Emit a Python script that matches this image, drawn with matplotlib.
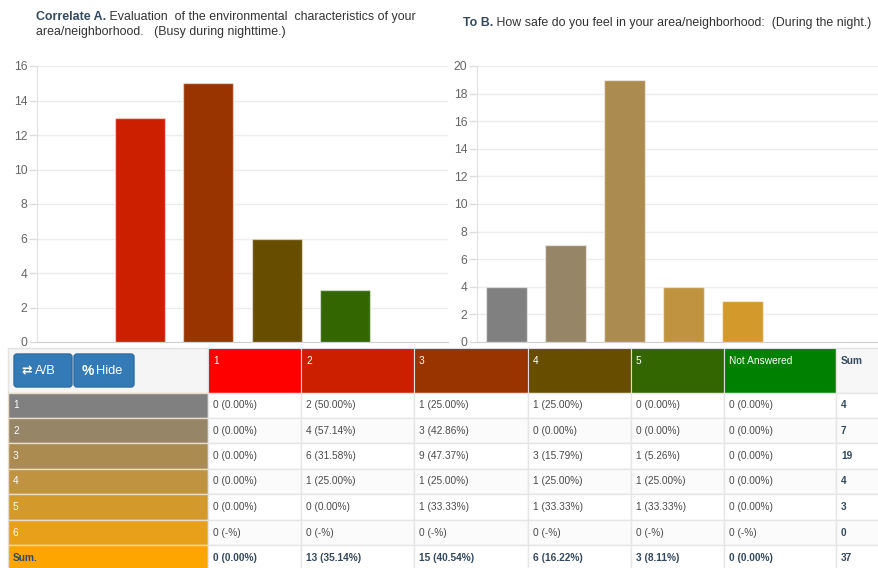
import matplotlib
matplotlib.use("Agg")
import matplotlib.pyplot as plt
from matplotlib.patches import Rectangle, FancyBboxPatch

plt.rcParams["font.family"] = ["Liberation Sans", "DejaVu Sans"]

W, H = 879, 568

# question A (columns) and B (rows)
A_LABELS = ["1", "2", "3", "4", "5", "Not Answered"]
A_COUNTS = [0, 13, 15, 6, 3, 0]
A_COLORS = ["#ff0000", "#cc1f00", "#993300", "#664d00", "#336600", "#008000"]

B_LABELS = ["1", "2", "3", "4", "5", "6"]
B_COUNTS = [4, 7, 19, 4, 3, 0]
B_COLORS = ["#808080", "#968566", "#ab8b50", "#bf9340", "#d3992b", "#e8a01a"]
SUM_COLOR = "#ffa500"

# crosstab: rows = B answers, columns = A answers
CROSS = [
    [0, 2, 1, 1, 0, 0],
    [0, 4, 3, 0, 0, 0],
    [0, 6, 9, 3, 1, 0],
    [0, 1, 1, 1, 1, 0],
    [0, 0, 1, 1, 1, 0],
    [0, 0, 0, 0, 0, 0],
]
TOTAL = 37

TITLE_A_BOLD = "Correlate A."
TITLE_A_REST = [" Evaluation  of the environmental  characteristics of your",
                "area/neighborhood.   (Busy during nighttime.)"]
TITLE_B_BOLD = "To B."
TITLE_B_REST = " How safe do you feel in your area/neighborhood:  (During the night.)"

NAVY = "#34495e"

fig = plt.figure(figsize=(W / 100, H / 100), dpi=100)
page = fig.add_axes([0, 0, 1, 1], facecolor="none")
page.set_xlim(0, W)
page.set_ylim(H, 0)
page.axis("off")


def px_axes(x0, y0, x1, y1):
    return fig.add_axes([x0 / W, 1 - y1 / H, (x1 - x0) / W, (y1 - y0) / H])


def bar_chart(ax, counts, colors, ymax, xright, width):
    x = list(range(len(counts)))
    ax.bar(x, counts, width=width, color=colors,
           edgecolor=(1, 1, 1, 0.5), linewidth=1, zorder=3)
    ax.set_ylim(0, ymax)
    ax.set_yticks(range(0, ymax + 1, 2))
    ax.set_xlim(-0.5, xright)
    ax.set_xticks([])
    ax.grid(axis="y", color="#ececec", lw=1, zorder=0)
    ax.set_axisbelow(True)
    for s in ["top", "right"]:
        ax.spines[s].set_visible(False)
    ax.spines["left"].set_color("#e2e2e2")
    ax.spines["bottom"].set_color("#d0d0d0")
    ax.tick_params(axis="y", colors="#dcdcdc", labelcolor="#666666",
                   labelsize=8.7, length=6, width=1, pad=1)


ax_a = px_axes(37, 66, 448, 342)
bar_chart(ax_a, A_COUNTS, A_COLORS, 16, 5.5, 0.73)
ax_b = px_axes(477, 66, W, 342)
bar_chart(ax_b, B_COUNTS, B_COLORS, 20, (W - 477) / 59 - 0.5, 0.71)

# titles, bold lead-in followed by normal text
renderer = fig.canvas.get_renderer()


def title(x, y, bold, rest, size=8.9):
    t = page.text(x, y, bold, fontsize=size, fontweight="bold", color=NAVY,
                  va="top", ha="left")
    bb = t.get_window_extent(renderer=renderer)
    x_end = page.transData.inverted().transform((bb.x1, bb.y0))[0]
    page.text(x_end, y, rest[0], fontsize=size, color="#333333", va="top", ha="left")
    for k, line in enumerate(rest[1:], 1):
        page.text(x, y + 15 * k, line, fontsize=size, color="#333333",
                  va="top", ha="left")


title(36, 11, TITLE_A_BOLD, TITLE_A_REST)
title(463, 17, TITLE_B_BOLD, [TITLE_B_REST])

# table
COL_X = [8, 208, 301, 414, 528, 631, 724, 836, 879]
ROW_Y = [348, 393, 418, 443, 469, 494, 520, 545, 571]
FS = 7.3

# header row
page.add_patch(Rectangle((COL_X[0], ROW_Y[0]), COL_X[1] - COL_X[0], ROW_Y[1] - ROW_Y[0],
                         facecolor="#f5f5f5", edgecolor="#e3e3e3", lw=1))
for j, (lab, col) in enumerate(zip(A_LABELS, A_COLORS)):
    x0, x1 = COL_X[j + 1], COL_X[j + 2]
    page.add_patch(Rectangle((x0, ROW_Y[0]), x1 - x0, ROW_Y[1] - ROW_Y[0],
                             facecolor=col, edgecolor="#dddddd", lw=0.8))
    page.text(x0 + 5, 361, lab, fontsize=FS, color="white", va="center", ha="left")
page.add_patch(Rectangle((COL_X[-2], ROW_Y[0]), COL_X[-1] - COL_X[-2], ROW_Y[1] - ROW_Y[0],
                         facecolor="#f7f7f7", edgecolor="#e3e3e3", lw=1))
page.text(COL_X[-2] + 5, 361, "Sum", fontsize=FS, fontweight="bold", color=NAVY,
          va="center", ha="left")

# buttons
for x0, x1 in [(14, 72), (74, 134)]:
    page.add_patch(FancyBboxPatch((x0, 354), x1 - x0, 33,
                                  boxstyle="round,pad=0,rounding_size=3",
                                  facecolor="#337ab7", edgecolor="#2e6da4", lw=1))
page.text(21, 371, "⇄", family="DejaVu Sans", fontsize=9, fontweight="bold",
          color="white", va="center", ha="left")
page.text(35, 371, "A/B", fontsize=9.3, color="white", va="center", ha="left")
page.text(82, 371, "%", fontsize=10, fontweight="bold", color="white",
          va="center", ha="left")
page.text(96, 371, "Hide", fontsize=9.3, color="white", va="center", ha="left")

# body rows
row_labels = B_LABELS + ["Sum."]
row_colors = B_COLORS + [SUM_COLOR]
col_sums = [sum(r[j] for r in CROSS) for j in range(len(A_LABELS))]
for i in range(len(row_labels)):
    y0, y1 = ROW_Y[i + 1], ROW_Y[i + 2]
    yc = (y0 + y1) / 2
    is_sum = i == len(row_labels) - 1
    page.add_patch(Rectangle((COL_X[0], y0), COL_X[1] - COL_X[0], y1 - y0,
                             facecolor=row_colors[i], edgecolor="#e8dcc8", lw=1))
    page.text(COL_X[0] + 5, yc, row_labels[i], fontsize=FS,
              color=NAVY if is_sum else "white",
              fontweight="bold" if is_sum else "normal", va="center", ha="left")
    if is_sum:
        vals, denom = col_sums, TOTAL
        rsum = TOTAL
    else:
        vals, denom = CROSS[i], B_COUNTS[i]
        rsum = B_COUNTS[i]
    bg = "white" if i % 2 == 0 else "#fbfbfb"
    for j, v in enumerate(vals):
        x0, x1 = COL_X[j + 1], COL_X[j + 2]
        page.add_patch(Rectangle((x0, y0), x1 - x0, y1 - y0, facecolor=bg,
                                 edgecolor="#e6e6e6", lw=1))
        txt = f"{v} ({100 * v / denom:.2f}%)" if denom else f"{v} (-%)"
        page.text(x0 + 5, yc, txt, fontsize=FS,
                  color=NAVY if is_sum else "#4a4a4a",
                  fontweight="bold" if is_sum else "normal", va="center", ha="left")
    page.add_patch(Rectangle((COL_X[-2], y0), COL_X[-1] - COL_X[-2], y1 - y0,
                             facecolor=bg, edgecolor="#e6e6e6", lw=1))
    page.text(COL_X[-2] + 5, yc, str(rsum), fontsize=FS, fontweight="bold",
              color=NAVY, va="center", ha="left")

fig.savefig("out.png", dpi=100)
